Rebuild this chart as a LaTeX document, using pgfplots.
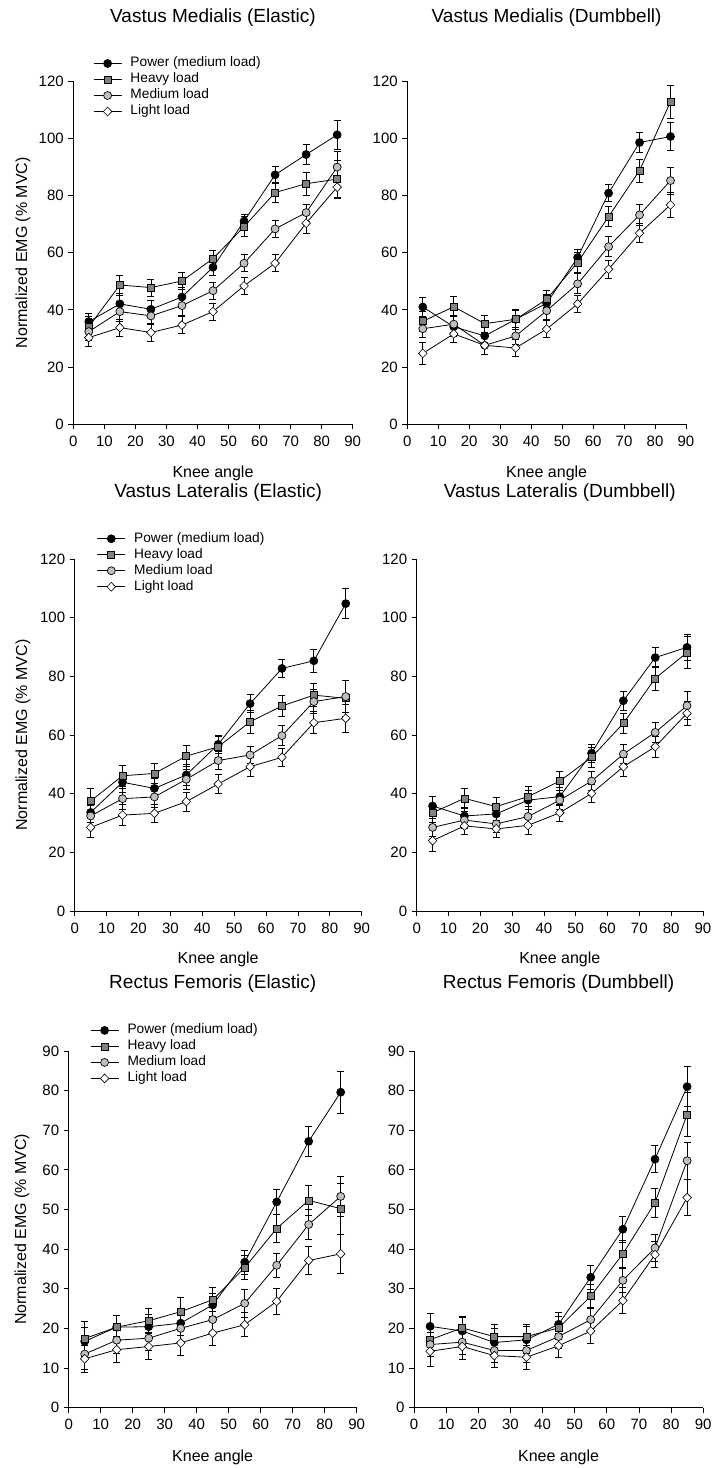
\documentclass[border=0pt]{standalone}
\usepackage{fontspec}
\setmainfont{Liberation Sans}
\usepackage{pgfplots}
\usepackage{pgfplotstable}
\pgfplotsset{compat=1.18}

% x, power, err, heavy, err, medium, err, light, err
\pgfplotstableread{
x p pe h he m me l le
5 35.9 3 34.1 3.5 32.4 3 30.3 3
15 42.1 3.5 48.7 3.5 39.4 3.5 33.8 3
25 40.2 3 47.8 3 37.9 3 32.1 3
35 44.5 3.5 50.1 3 41.5 3.5 34.7 3
45 54.9 3 57.9 3 46.7 3 39.4 3
55 71.0 2.5 69.1 3.5 56.3 3 48.4 3
65 87.2 3 81.0 3.5 68.3 3 56.3 3
75 94.3 3.5 84.1 4 74.0 3 70.3 3.5
85 101.2 5 85.7 6.5 89.9 5.5 82.9 4
}\tTL
\pgfplotstableread{
x p pe h he m me l le
5 41.0 3.4 36.0 3.5 33.4 3 24.8 3.7
15 34.1 3.5 41.1 3.5 35.0 3 31.6 3
25 30.9 3 35.2 3 27.6 3 27.6 3
35 36.7 3 36.7 3.5 30.9 3 26.7 3
45 42.3 3 43.7 3 39.7 3 33.3 3
55 58.3 3 56.6 3.5 49.1 3.5 42.1 3
65 80.8 3 72.6 3.5 62.1 3.5 54.2 3.2
75 98.5 3.5 88.7 4 73.2 3.5 66.8 3.3
85 100.6 5 112.8 5.7 85.2 4.7 76.7 4.3
}\tTR
\pgfplotstableread{
x p pe h he m me l le
5 33.6 3.3 37.5 4.3 32.4 3.5 28.5 3.4
15 43.9 3.5 46.1 3.5 38.3 3.5 32.7 3.5
25 41.8 3.5 46.9 3.5 38.9 3.5 33.3 3.2
35 46.4 3.5 52.8 3.5 44.9 3.5 37.3 3.2
45 56.8 3 56.0 3.5 51.3 3 43.3 3.2
55 70.7 3 64.5 4 53.2 3 49.2 3.2
65 82.7 3.1 69.9 3.5 59.8 3.5 52.4 3.2
75 85.3 3.9 73.6 4 71.4 4 64.2 3.8
85 104.8 5.2 72.5 6 73.1 5.5 65.7 4.9
}\tML
\pgfplotstableread{
x p pe h he m me l le
5 35.8 3.2 33.5 3.3 28.5 3 24.0 3.8
15 32.4 3 38.4 3.5 31.0 3 29.0 3
25 33.1 3 35.6 3.3 29.7 3 28.0 3
35 37.8 3.3 39.0 3.5 32.2 3.3 29.2 3
45 39.0 3 44.3 3.3 37.8 3.3 33.5 3
55 53.8 3 52.4 3.5 44.3 3.3 40.1 3
65 71.7 3.2 64.0 3.5 53.5 3.3 49.2 3.2
75 86.4 3.4 79.3 4 60.9 3.3 56.0 3.5
85 89.9 4.5 88.1 5.5 70.0 4.8 67.4 4.1
}\tMR
\pgfplotstableread{
x p pe h he m me l le
5 16.7 3.5 17.4 4.3 13.5 4 12.3 3.5
15 20.3 3 20.3 3 17.0 3.3 14.6 3.3
25 20.4 3 21.9 3 17.5 3 15.4 3.2
35 21.3 3 24.2 3.5 20.0 3.2 16.3 3.2
45 25.9 3 27.2 3 22.2 3 18.8 3.2
55 36.7 3 35.3 3 26.3 3.5 20.9 3
65 51.9 3.1 45.2 3.5 35.9 3 26.8 3.2
75 67.2 3.7 52.3 3.8 46.2 3.8 37.1 3.5
85 79.6 5.3 50.2 6.4 53.3 5 38.8 5
}\tBL
\pgfplotstableread{
x p pe h he m me l le
5 20.5 3.3 17.1 3 15.9 3 14.2 3.8
15 19.3 3.5 20.1 3 16.5 3 15.4 3.3
25 16.4 3.5 17.9 3 14.4 3 13.1 3
35 17.1 3.5 17.9 3 14.4 3 12.7 3
45 21.0 3 20.1 3 17.9 3 15.6 3
55 32.9 3 28.1 3 22.2 3 19.3 3
65 45.0 3.3 38.8 3.3 32.1 3 27.0 3.2
75 62.7 3.4 51.7 3.7 40.3 3.3 38.6 3.3
85 81.0 5 74.0 5.5 62.3 4.7 53.0 4.5
}\tBR

\pgfplotsset{
  emg/.style={
    scale only axis, anchor=south west, clip=false,
    xmin=0, xmax=90, xtick={0,10,...,90}, ymin=0,
    axis x line*=bottom, axis y line*=left,
    x axis line style={-}, y axis line style={-},
    axis line style={line width=0.8pt, black},
    tick align=outside, major tick length=5pt,
    tick style={line width=0.8pt, black},
    /pgf/number format/assume math mode=true,
    tick label style={font=\fontsize{15}{17}\selectfont},
    xticklabel style={yshift=-3pt},
    yticklabel style={xshift=-1pt},
    title style={font=\fontsize{19}{22}\selectfont, anchor=center},
    label style={font=\fontsize{16}{18}\selectfont},
    xlabel={Knee angle},
    legend cell align=left,
    legend image code/.code={\draw[##1, mark repeat=2, mark phase=2] plot coordinates {(0pt,0pt) (14pt,0pt) (28pt,0pt)};},
  },
  eb/.style={error bars/.cd, y dir=both, y explicit,
    error bar style={line width=0.8pt, black},
    error mark options={rotate=90, mark size=3.5pt, line width=0.8pt, black}},
  pw/.style={black, line width=0.8pt, mark=*, mark size=4pt, mark options={fill=black, line width=0.7pt}},
  hv/.style={black, line width=0.8pt, mark=square*, mark size=3.5pt, mark options={fill=black!50, line width=0.7pt}},
  md/.style={black, line width=0.8pt, mark=*, mark size=4pt, mark options={fill=black!25, line width=0.7pt}},
  lt/.style={black, line width=0.8pt, mark=diamond*, mark size=4.4pt, mark options={fill=white, xscale=1.3, line width=0.6pt}},
  leg/.style={legend style={draw=none, fill=none, at={(axis description cs:#1)}, anchor=north west,
    font=\fontsize{13.7}{15}\selectfont, inner sep=0pt, column sep=8pt, row sep=2pt,
    nodes={inner sep=0.5pt, text height=10pt, text depth=3pt}}},
}

\newcommand{\fourseries}[1]{%
  \addplot[pw, eb] table[x=x, y=p, y error=pe]{#1};
  \addplot[hv, eb] table[x=x, y=h, y error=he]{#1};
  \addplot[md, eb] table[x=x, y=m, y error=me]{#1};
  \addplot[lt, eb] table[x=x, y=l, y error=le]{#1};
}

\begin{document}
\begin{tikzpicture}[x=1pt,y=1pt]
\useasboundingbox (0,0) rectangle (712,-1468);

% Top left
\begin{axis}[emg, at={(73.3pt,-424.3pt)}, width=279.4pt, height=343.3pt,
  ymax=120, ytick={0,20,...,120},
  title={Vastus Medialis (Elastic)}, title style={at={(axis description cs:0.5,1.166)}},
  xlabel style={at={(axis description cs:0.5,-0.142)}, anchor=center},
  ylabel={Normalized EMG (\% MVC)}, ylabel style={at={(axis description cs:-0.180,0.5)}, anchor=center},
  leg={0.0705,1.072}]
\fourseries{\tTL}
\legend{Power (medium load),Heavy load,Medium load,Light load}
\end{axis}

% Top right
\begin{axis}[emg, at={(407.3pt,-424.3pt)}, width=278.7pt, height=343.3pt,
  ymax=120, ytick={0,20,...,120},
  title={Vastus Medialis (Dumbbell)}, title style={at={(axis description cs:0.5,1.166)}},
  xlabel style={at={(axis description cs:0.5,-0.142)}, anchor=center}]
\fourseries{\tTR}
\end{axis}

% Middle left
\begin{axis}[emg, at={(74.7pt,-911pt)}, width=287pt, height=352pt,
  ymax=120, ytick={0,20,...,120},
  title={Vastus Lateralis (Elastic)}, title style={at={(axis description cs:0.5,1.173)}},
  xlabel style={at={(axis description cs:0.5,-0.136)}, anchor=center},
  ylabel={Normalized EMG (\% MVC)}, ylabel style={at={(axis description cs:-0.180,0.5)}, anchor=center},
  leg={0.0767,1.078}]
\fourseries{\tML}
\legend{Power (medium load),Heavy load,Medium load,Light load}
\end{axis}

% Middle right
\begin{axis}[emg, at={(416.7pt,-911pt)}, width=286.2pt, height=352pt,
  ymax=120, ytick={0,20,...,120},
  title={Vastus Lateralis (Dumbbell)}, title style={at={(axis description cs:0.5,1.173)}},
  xlabel style={at={(axis description cs:0.5,-0.136)}, anchor=center}]
\fourseries{\tMR}
\end{axis}

% Bottom left
\begin{axis}[emg, at={(68.7pt,-1407.5pt)}, width=288pt, height=356.5pt,
  ymax=90, ytick={0,10,...,90},
  title={Rectus Femoris (Elastic)}, title style={at={(axis description cs:0.5,1.171)}},
  xlabel style={at={(axis description cs:0.5,-0.140)}, anchor=center},
  ylabel={Normalized EMG (\% MVC)}, ylabel style={at={(axis description cs:-0.162,0.5)}, anchor=center},
  leg={0.074,1.078}]
\fourseries{\tBL}
\legend{Power (medium load),Heavy load,Medium load,Light load}
\end{axis}

% Bottom right
\begin{axis}[emg, at={(414pt,-1407.5pt)}, width=289.2pt, height=356.5pt,
  ymax=90, ytick={0,10,...,90},
  title={Rectus Femoris (Dumbbell)}, title style={at={(axis description cs:0.5,1.171)}},
  xlabel style={at={(axis description cs:0.5,-0.140)}, anchor=center}]
\fourseries{\tBR}
\end{axis}
\end{tikzpicture}
\end{document}
